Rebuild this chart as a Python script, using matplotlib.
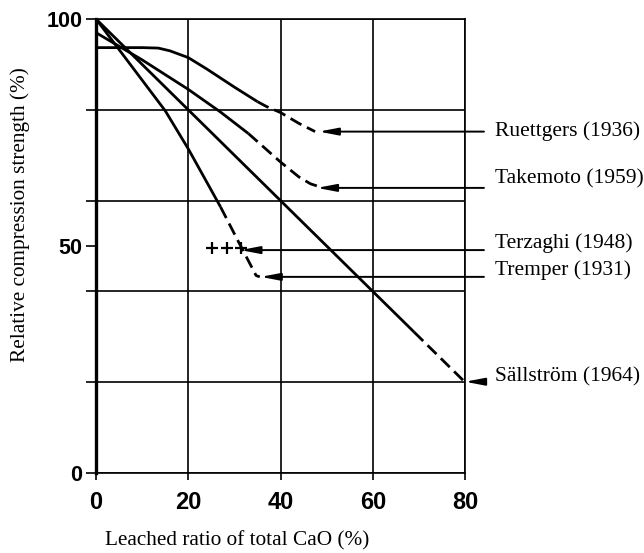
import matplotlib
matplotlib.use("Agg")
import matplotlib.pyplot as plt
from matplotlib.ticker import FixedLocator, FixedFormatter

# leaching curves: leached CaO (%) vs relative compressive strength (%)
ruettgers_x = [0, 5, 10, 13.5, 16, 20, 24, 27, 30, 35, 37, 40, 44, 47.5]
ruettgers_y = [93.7, 93.7, 93.7, 93.6, 93.0, 91.5, 89.0, 87.0, 85.0, 81.8, 80.7, 79.4, 77.0, 75.2]
ruettgers_dash = 9      # index where the dashed part begins

takemoto_x = [0, 10, 20, 27, 33, 40, 44, 46.5, 48]
takemoto_y = [97.0, 91.0, 84.5, 79.5, 74.8, 68.5, 65.2, 63.7, 63.2]
takemoto_dash = 4

tremper_x = [0, 15, 20, 27, 31, 34.7, 35.5]
tremper_y = [100, 79.8, 71.4, 58.6, 50.7, 43.5, 43.2]
tremper_dash = 3

sallstrom_x = [0, 20, 40, 60, 69, 80]
sallstrom_y = [100, 80, 60, 40, 31, 20]
sallstrom_dash = 4

terzaghi_x = [25.2, 28.3, 31.5]
terzaghi_y = [49.5, 49.5, 49.5]

# labels on the right with their pointer arrows
labels = ['Ruettgers (1936)', 'Takemoto (1959)', 'Terzaghi (1948)', 'Tremper (1931)', 'Sällström (1964)']
label_y = [75.3, 64.8, 50.7, 44.7, 21.2]
arrow_y = [75.2, 62.8, 49.1, 43.2, 20.1]
arrow_tip = [48.3, 47.9, 31.3, 35.7, 80.0]
arrow_tail = [84.1, 84.1, 84.1, 84.1, 84.1]

xticks = [0, 20, 40, 60, 80]
yticks = [0, 20, 40, 60, 80, 100]
ytick_labels = ['0', '', '', '', '', '100']
ymid = [50]
ymid_labels = ['50']

fig = plt.figure(figsize=(6.44, 5.53), dpi=100)
ax = fig.add_axes([0.1491, 0.1447, 0.5730, 0.8209])

lw = 2.0
dashes = (0, (4.5, 2.2))
for xs, ys, i in [(ruettgers_x, ruettgers_y, ruettgers_dash),
                  (takemoto_x, takemoto_y, takemoto_dash),
                  (tremper_x, tremper_y, tremper_dash),
                  (sallstrom_x, sallstrom_y, sallstrom_dash)]:
    ax.plot(xs[:i + 1], ys[:i + 1], color='black', lw=lw, solid_capstyle='butt', zorder=3)
    ax.plot(xs[i:], ys[i:], color='black', lw=lw, linestyle=dashes, zorder=3)

ax.plot(terzaghi_x, terzaghi_y, linestyle='none', marker='+', ms=8, mew=1.6, color='black', zorder=3)

for name, ty, ay, tip, tail in zip(labels, label_y, arrow_y, arrow_tip, arrow_tail):
    ax.annotate('', xy=(tip, ay), xytext=(tail, ay), annotation_clip=False,
                arrowprops=dict(arrowstyle='-|>,head_length=1.15,head_width=0.22',
                                color='black', lw=1.4, shrinkA=0, shrinkB=0,
                                mutation_scale=10))
    ax.text(86.4, ty, name, ha='left', va='center', fontsize=15.5,
            family='Liberation Serif', clip_on=False)

ax.set_xlim(0, 80)
ax.set_ylim(0, 100)
ax.set_xticks(xticks)
ax.set_yticks(yticks)
ax.set_yticklabels(ytick_labels)
# 50 gets a tick and a label but no grid line
ax.yaxis.set_minor_locator(FixedLocator(ymid))
ax.yaxis.set_minor_formatter(FixedFormatter(ymid_labels))

for lab in ax.get_xticklabels():
    lab.set_fontfamily('Liberation Sans')
    lab.set_fontweight('bold')
    lab.set_fontsize(17)
for lab in ax.get_yticklabels() + ax.get_yticklabels(minor=True):
    lab.set_fontfamily('Liberation Sans')
    lab.set_fontweight('bold')
    lab.set_fontsize(15.5)

ax.tick_params(axis='x', direction='out', length=5, width=1.2, pad=8)
ax.tick_params(axis='y', which='both', direction='out', length=7, width=1.2, pad=3)

ax.grid(True, which='major', color='black', lw=1.2)
ax.set_axisbelow(True)

for side in ['top', 'right', 'bottom']:
    ax.spines[side].set_linewidth(1.2)
ax.spines['left'].set_linewidth(2.4)

fig.text(20 / 644, 1 - 215 / 553, 'Relative compression strength (%)', rotation=90,
         ha='center', va='center', fontsize=15.3, family='Liberation Serif')
fig.text(237.5 / 644, 1 - 541 / 553, 'Leached ratio of total CaO (%)',
         ha='center', va='center', fontsize=15.3, family='Liberation Serif')

fig.savefig('out.png', dpi=100)
